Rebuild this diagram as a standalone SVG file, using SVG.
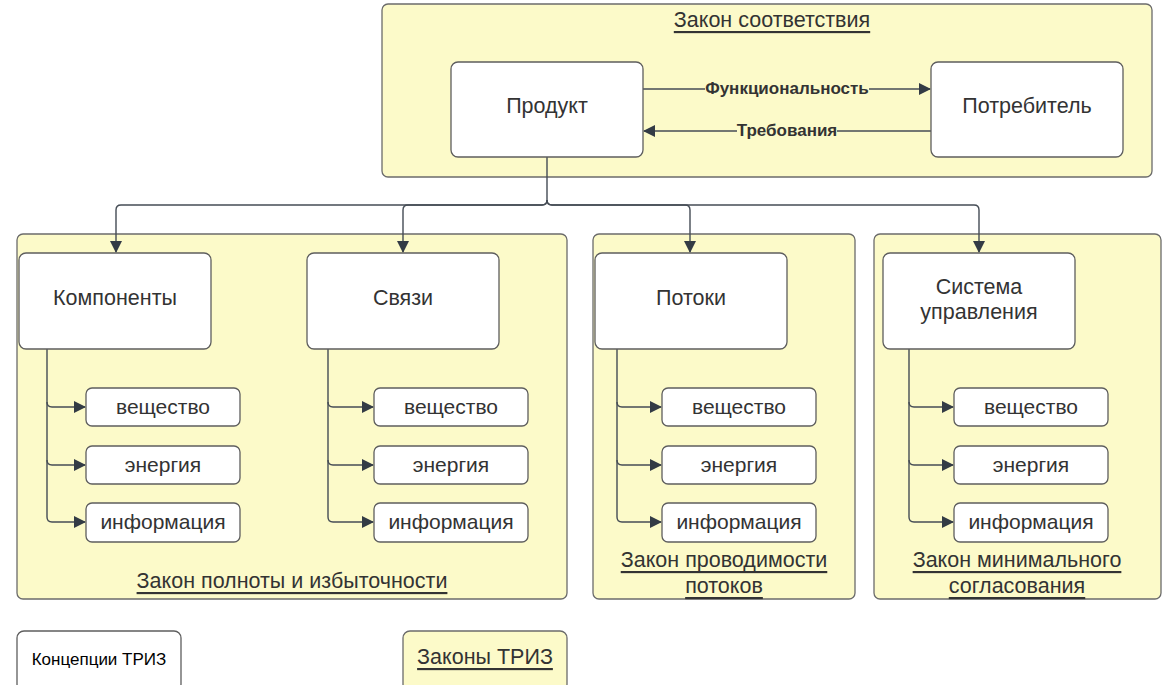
<svg xmlns="http://www.w3.org/2000/svg" width="1163" height="685" viewBox="0 0 1163 685">
<defs>
<marker id="arr" markerWidth="12" markerHeight="12" refX="11" refY="6" orient="auto" markerUnits="userSpaceOnUse">
<path d="M0,0 L12,6 L0,12 Z" fill="#333b45"/>
</marker>
</defs>
<style>
.cont{fill:#fcfac9;stroke:#6b6b6b;stroke-width:1.3}
.box{fill:#ffffff;stroke:#5e5e5e;stroke-width:1.3}
.t{font-family:"Liberation Sans",Arial,sans-serif;fill:#333333;text-anchor:middle;dominant-baseline:central}
.big{font-size:21.5px}
.sub{font-size:21px}
.law{font-size:21.5px;text-decoration:underline}
.lbl{font-size:17px;font-weight:bold}
.con{fill:none;stroke:#454c55;stroke-width:1.4}
</style>
<rect width="1163" height="685" fill="#ffffff"/>

<g id="law-sootvetstviya">
<rect class="cont" x="382" y="4" width="770" height="173" rx="6"/>
<text class="t law" x="772" y="20">Закон соответствия</text>
</g>
<g id="law-polnoty">
<rect class="cont" x="17" y="234" width="550" height="365" rx="6"/>
<text class="t law" x="292" y="581">Закон полноты и избыточности</text>
</g>
<g id="law-provodimosti">
<rect class="cont" x="593" y="234" width="262" height="365" rx="6"/>
<text class="t law" x="724" y="560">Закон проводимости</text>
<text class="t law" x="724" y="586">потоков</text>
</g>
<g id="law-soglasovaniya">
<rect class="cont" x="874" y="234" width="287" height="365" rx="6"/>
<text class="t law" x="1017" y="560">Закон минимального</text>
<text class="t law" x="1017" y="586">согласования</text>
</g>

<g id="connectors">
<path class="con" d="M643,89 H705 M869,89 H930" marker-end="url(#arr)"/>
<path class="con" d="M931,131 H837 M737,131 H644" marker-end="url(#arr)"/>
<path class="con" d="M547,157 V200 Q547,205 542,205 H121 Q116,205 116,210 V252" marker-end="url(#arr)"/>
<path class="con" d="M547,200 Q547,205 542,205 H408 Q403,205 403,210 V252" marker-end="url(#arr)"/>
<path class="con" d="M547,200 Q547,205 552,205 H685 Q690,205 690,210 V252" marker-end="url(#arr)"/>
<path class="con" d="M547,200 Q547,205 552,205 H974 Q979,205 979,210 V252" marker-end="url(#arr)"/>

<path class="con" d="M47,349 V402 Q47,407 52,407 H85" marker-end="url(#arr)"/>
<path class="con" d="M47,402 V460 Q47,465 52,465 H85" marker-end="url(#arr)"/>
<path class="con" d="M47,460 V517 Q47,522 52,522 H85" marker-end="url(#arr)"/>

<path class="con" d="M328,349 V402 Q328,407 333,407 H373" marker-end="url(#arr)"/>
<path class="con" d="M328,402 V460 Q328,465 333,465 H373" marker-end="url(#arr)"/>
<path class="con" d="M328,460 V517 Q328,522 333,522 H373" marker-end="url(#arr)"/>

<path class="con" d="M617,349 V402 Q617,407 622,407 H661" marker-end="url(#arr)"/>
<path class="con" d="M617,402 V460 Q617,465 622,465 H661" marker-end="url(#arr)"/>
<path class="con" d="M617,460 V517 Q617,522 622,522 H661" marker-end="url(#arr)"/>

<path class="con" d="M909,349 V402 Q909,407 914,407 H953" marker-end="url(#arr)"/>
<path class="con" d="M909,402 V460 Q909,465 914,465 H953" marker-end="url(#arr)"/>
<path class="con" d="M909,460 V517 Q909,522 914,522 H953" marker-end="url(#arr)"/>

<text class="t lbl" x="787" y="88">Функциональность</text>
<text class="t lbl" x="787" y="130">Требования</text>
</g>

<g id="produkt"><rect class="box" x="451" y="62" width="192" height="95" rx="7"/><text class="t big" x="547" y="106">Продукт</text></g>
<g id="potrebitel"><rect class="box" x="931" y="62" width="192" height="95" rx="7"/><text class="t big" x="1027" y="106">Потребитель</text></g>

<g id="komponenty"><rect class="box" x="19" y="253" width="192" height="96" rx="7"/><text class="t big" x="115" y="298">Компоненты</text></g>
<g id="svyazi"><rect class="box" x="307" y="253" width="192" height="96" rx="7"/><text class="t big" x="403" y="298">Связи</text></g>
<g id="potoki"><rect class="box" x="595" y="253" width="192" height="96" rx="7"/><text class="t big" x="691" y="298">Потоки</text></g>
<g id="sistema"><rect class="box" x="883" y="253" width="192" height="96" rx="7"/><text class="t big" x="979" y="287">Система</text><text class="t big" x="979" y="312">управления</text></g>

<g id="k-veshestvo"><rect class="box" x="86" y="388" width="154" height="38" rx="6"/><text class="t sub" x="163" y="406">вещество</text></g>
<g id="k-energiya"><rect class="box" x="86" y="446" width="154" height="38" rx="6"/><text class="t sub" x="163" y="464">энергия</text></g>
<g id="k-informaciya"><rect class="box" x="86" y="503" width="154" height="39" rx="6"/><text class="t sub" x="163" y="521">информация</text></g>

<g id="s-veshestvo"><rect class="box" x="374" y="388" width="154" height="38" rx="6"/><text class="t sub" x="451" y="406">вещество</text></g>
<g id="s-energiya"><rect class="box" x="374" y="446" width="154" height="38" rx="6"/><text class="t sub" x="451" y="464">энергия</text></g>
<g id="s-informaciya"><rect class="box" x="374" y="503" width="154" height="39" rx="6"/><text class="t sub" x="451" y="521">информация</text></g>

<g id="p-veshestvo"><rect class="box" x="662" y="388" width="154" height="38" rx="6"/><text class="t sub" x="739" y="406">вещество</text></g>
<g id="p-energiya"><rect class="box" x="662" y="446" width="154" height="38" rx="6"/><text class="t sub" x="739" y="464">энергия</text></g>
<g id="p-informaciya"><rect class="box" x="662" y="503" width="154" height="39" rx="6"/><text class="t sub" x="739" y="521">информация</text></g>

<g id="u-veshestvo"><rect class="box" x="954" y="388" width="154" height="38" rx="6"/><text class="t sub" x="1031" y="406">вещество</text></g>
<g id="u-energiya"><rect class="box" x="954" y="446" width="154" height="38" rx="6"/><text class="t sub" x="1031" y="464">энергия</text></g>
<g id="u-informaciya"><rect class="box" x="954" y="503" width="154" height="39" rx="6"/><text class="t sub" x="1031" y="521">информация</text></g>

<g id="legend-koncepcii"><rect class="box" x="17" y="631" width="164" height="60" rx="7"/><text x="99" y="659" font-family="Liberation Sans, Arial, sans-serif" font-size="17" fill="#000000" text-anchor="middle" dominant-baseline="central">Концепции ТРИЗ</text></g>
<g id="legend-zakony"><rect class="cont" x="403" y="631" width="164" height="60" rx="7"/><text class="t law" x="485" y="657">Законы ТРИЗ</text></g>
</svg>
